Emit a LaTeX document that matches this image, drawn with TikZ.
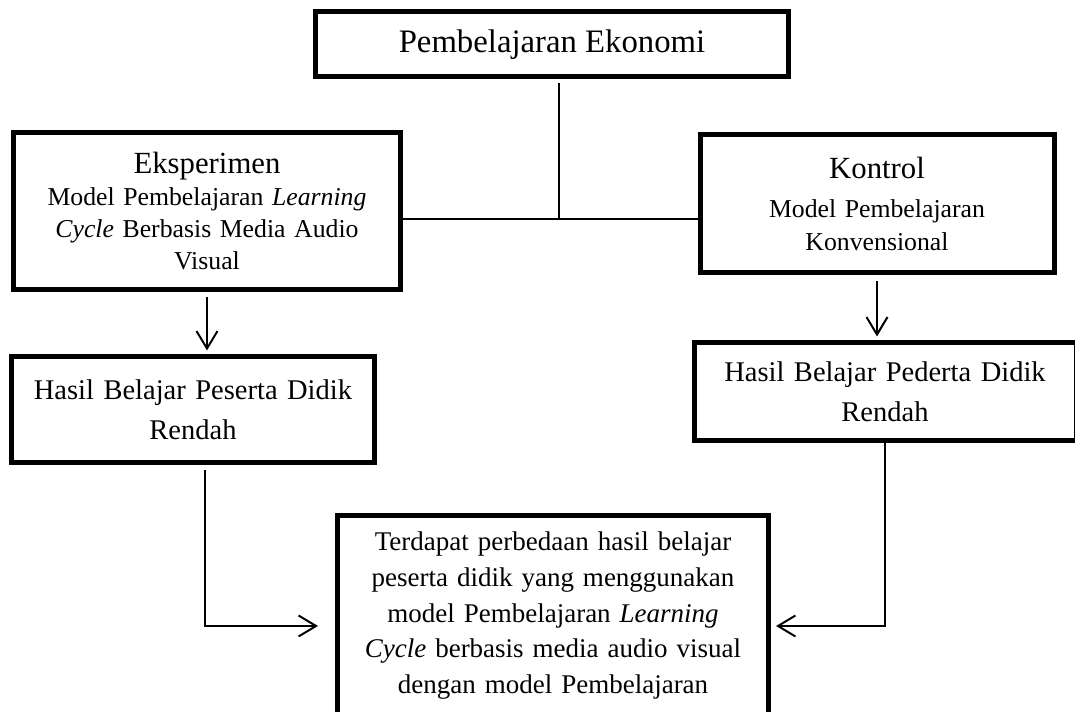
\documentclass[tikz,border=0pt]{standalone}
\usepackage{fontspec}
\setmainfont{Liberation Serif}
\usetikzlibrary{arrows.meta, calc}

\begin{document}
\begin{tikzpicture}[x=0.4pt, y=-0.4pt,
    box/.style={draw, line width=2pt, align=center, inner sep=3pt},
    conn/.style={line width=0.8pt},
    arr/.style={conn, -{Straight Barb[length=7pt, width=8.4pt]}}]
    \useasboundingbox (0,0) rectangle (1075,712);
    \fill[white] (0,0) rectangle (1075,712);
    \clip (0,0) rectangle (1075,712);
    % Pembelajaran Ekonomi
    \node[box, minimum width=188.8pt, minimum height=26pt, font=\fontsize{13.1}{15}\selectfont] (ekonomi) at (552,44.5) {Pembelajaran Ekonomi};
    % Eksperimen
    \node[box, minimum width=154.4pt, minimum height=62.8pt, text width=140pt, font=\fontsize{10.3}{12.8}\selectfont] (eksp) at (207,211)
        {{\fontsize{12.3}{12.8}\selectfont Eksperimen}\\ Model Pembelajaran \textit{Learning}\\ \textit{Cycle} Berbasis Media Audio\\ Visual};
    % Kontrol
    \node[box, minimum width=141.6pt, minimum height=55.2pt, text width=130pt, font=\fontsize{10.3}{13.2}\selectfont] (kontrol) at (877,204)
        {{\fontsize{12.3}{13.2}\selectfont Kontrol}\\[2.4pt] Model Pembelajaran\\ Konvensional};
    % Hasil belajar
    \node[box, minimum width=144.8pt, minimum height=42.4pt, text width=135pt, font=\fontsize{11.4}{15.8}\selectfont] (hasilA) at (193,410)
        {Hasil Belajar Peserta Didik\\ Rendah};
    \node[box, minimum width=152.8pt, minimum height=39.2pt, text width=140pt, font=\fontsize{11.4}{16}\selectfont] (hasilB) at (885,392)
        {Hasil Belajar Pederta Didik\\ Rendah};
    % Kesimpulan
    \node[box, anchor=north, minimum width=172pt, text width=160pt, inner ysep=6.6pt, font=\fontsize{10.8}{14.3}\selectfont] (hasil) at (553,513)
        {Terdapat perbedaan hasil belajar\\ peserta didik yang menggunakan\\ model Pembelajaran \textit{Learning}\\ \textit{Cycle} berbasis media audio visual\\ dengan model Pembelajaran\\ \mbox{}};
    % garis
    \coordinate (junc) at (559,219);
    \coordinate (inL) at (318,626);
    \coordinate (inR) at (776,626);
    \draw[conn, shorten <=1.6pt] (ekonomi.south -| junc) -- (junc);
    \draw[conn] (eksp.east |- junc) -- (kontrol.west |- junc);
    \draw[arr, shorten <=2pt, shorten >=1.6pt] (eksp.south) -- (eksp.south |- hasilA.north);
    \draw[arr, shorten <=2.4pt, shorten >=1.6pt] (kontrol.south) -- (kontrol.south |- hasilB.north);
    \draw[arr, shorten <=2pt] ($(hasilA.south)+(12,0)$) |- (inL);
    \draw[arr] (hasilB.south) |- (inR);
\end{tikzpicture}
\end{document}
